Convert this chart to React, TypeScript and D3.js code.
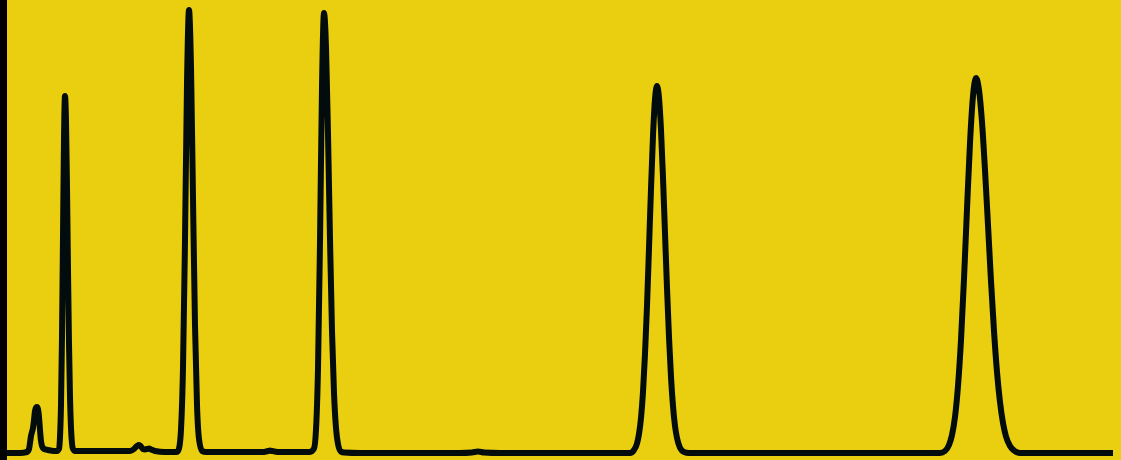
import React, { useRef, useEffect } from "react";
import * as d3 from "d3";

// chromatogram trace, [retention time (s), signal (mAU)]
const startAndPeak1: [number, number][] = [
  [0, 0], [26, 0], [40, 1], [44, 4], [46, 10], [48, 17], [50, 21], [52, 25],
  [54, 33], [56, 42], [58, 45.5], [60, 46], [62, 44], [64, 36], [66, 23],
  [68, 12], [70, 7], [74, 4], [82, 3], [94, 2], [100, 2],
];
const peak2: [number, number][] = [
  [104, 4], [106, 16], [108, 48], [110, 116], [112, 217], [114, 315],
  [116, 357], [118, 332], [120, 265], [122, 183], [124, 109], [126, 56],
  [128, 25], [130, 9.5], [132, 4], [136, 2], [186, 2],
];
const smallBump: [number, number][] = [
  [246, 2], [254, 4], [260, 7], [264, 8], [268, 6.5], [272, 4], [276, 3.5],
  [280, 4], [284, 4.5], [288, 3.5], [296, 2], [316, 1], [340, 1],
];
const peak3: [number, number][] = [
  [344, 4.5], [348, 23.5], [352, 85], [356, 213], [360, 369], [364, 443],
  [368, 386], [372, 255], [376, 128], [380, 48], [384, 14], [390, 2],
  [398, 1], [486, 1], [514, 1], [522, 2], [526, 2.5], [530, 2], [542, 1],
  [606, 1],
];
const peak4: [number, number][] = [
  [614, 4.4], [618, 23.3], [622, 84], [626, 211], [630, 366], [634, 440],
  [638, 406], [642, 319], [646, 214], [650, 122], [654, 60], [658, 25],
  [662, 9], [668, 1.4], [674, 0.5], [706, 0], [906, 0], [930, 0.5],
  [942, 1.5], [954, 0.5], [986, 0], [1246, 0],
];
const peak5: [number, number][] = [
  [1254, 3], [1260, 9.5], [1264, 19], [1268, 35], [1272, 61], [1276, 99],
  [1280, 147], [1284, 205], [1288, 264], [1292, 317], [1296, 354],
  [1300, 367], [1304, 355], [1308, 323], [1312, 275], [1316, 220],
  [1320, 165], [1324, 116], [1328, 76], [1332, 47], [1336, 27], [1340, 15],
  [1346, 5.3], [1354, 1], [1364, 0], [1866, 0],
];
const peak6AndEnd: [number, number][] = [
  [1876, 2], [1884, 8], [1890, 18], [1896, 36], [1902, 67], [1908, 113],
  [1914, 174], [1920, 244], [1926, 310], [1932, 357], [1938, 375],
  [1944, 363], [1950, 331], [1956, 283], [1962, 228], [1968, 172],
  [1974, 122], [1980, 81], [1986, 51], [1992, 30], [1998, 16.5], [2006, 7],
  [2014, 2.5], [2026, 0], [2212, 0],
];

const App = () => {
  const d3Container = useRef<SVGSVGElement | null>(null);
  const width = 1121;
  const height = 460;

  useEffect(() => {
    if (!d3Container.current) return;
    const svg = d3.select(d3Container.current);
    svg.selectAll("*").remove();

    const trace = [
      ...startAndPeak1,
      ...peak2,
      ...smallBump,
      ...peak3,
      ...peak4,
      ...peak5,
      ...peak6AndEnd,
    ];

    // background + dark strip on the left
    svg.append("rect").attr("width", width).attr("height", height).attr("fill", "#e9cf10");
    svg.append("rect").attr("width", 7).attr("height", height).attr("fill", "#000000");

    const x = d3.scaleLinear().domain([0, 2212]).range([7, 1113]);
    const y = d3.scaleLinear().domain([0, 443]).range([453, 10]);

    const line = d3
      .line<[number, number]>()
      .x((d) => x(d[0]))
      .y((d) => y(d[1]))
      .curve(d3.curveMonotoneX);

    svg
      .append("path")
      .datum(trace)
      .attr("d", line)
      .attr("fill", "none")
      .attr("stroke", "#020c0c")
      .attr("stroke-width", 6)
      .attr("stroke-linejoin", "round")
      .attr("stroke-linecap", "butt");
  }, []);

  return (
    <svg
      ref={d3Container}
      width={width}
      height={height}
      style={{ position: "fixed", left: 0, top: 0, display: "block" }}
    />
  );
};

export default App;
